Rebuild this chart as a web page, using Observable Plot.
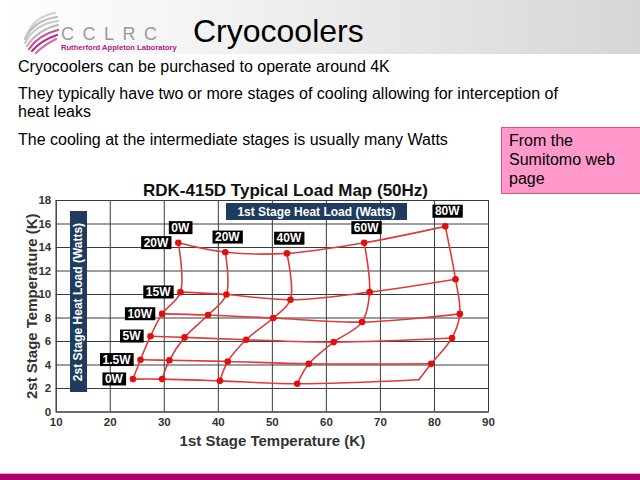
<!DOCTYPE html>
<html><head><meta charset="utf-8">
<script src="https://cdn.jsdelivr.net/npm/d3@7"></script>
<script src="https://cdn.jsdelivr.net/npm/@observablehq/plot@0.6"></script>
<style>
body{margin:0;width:640px;height:480px;overflow:hidden;background:#fff;font-family:Arial,"Liberation Sans",sans-serif;position:relative}
.abs{position:absolute;white-space:nowrap}
#header{position:absolute;left:0;top:0;width:640px;height:54px;background:linear-gradient(to right,#ffffff 0%,#f2f2f2 35%,#d6d6d6 100%)}
#title{left:193px;top:15px;font-size:32px;line-height:32px;color:#000}
.body{left:18px;font-size:16px;line-height:16px;color:#000}
#pink{position:absolute;left:501px;top:127px;width:131px;height:62px;background:#ff99cc;border:1px solid #e2507c;padding:3px 0 0 7px;font-size:16px;line-height:19px}
#ctitle{left:0;width:571px;text-align:center;top:181.5px;font-size:17px;line-height:17px;font-weight:bold;color:#111}
.navy{position:absolute;background:#1f3b5e;color:#fff;font-weight:bold;font-size:12px;display:flex;align-items:center;justify-content:center}
#chart{position:absolute;left:0;top:172px}
#bar{position:absolute;left:0;top:473px;width:640px;height:7px;background:#b0006d;border-top:1px solid #e8a8cc}
g[aria-label="x-axis label"] text, g[aria-label="y-axis label"] text{font-size:15px}
</style></head><body>
<div id="header"></div>
<svg class="abs" style="left:0;top:0" width="190" height="56">
  <g fill="none" stroke-linecap="round" stroke-width="2.2">
    <path d="M27,35 C31,23 42,15 55,13" stroke="#d0d0d0"/>
    <path d="M25,39 C30,27 42,19 57,17" stroke="#bdbdbd"/>
    <path d="M25,43 C31,31 43,23 58,21" stroke="#c8c8c8"/>
    <path d="M27,46 C33,36 45,28 58,25" stroke="#b8b8b8"/>
    <path d="M29,49 C35,40 46,33 58,30" stroke="#c4509a"/>
    <path d="M32,51 C38,44 48,38 57,35" stroke="#b0307f"/>
    <path d="M36,53 C42,47 50,42 56,39" stroke="#d070b0"/>
  </g>
  <text x="61" y="40" font-size="18" fill="#9a9a9a" letter-spacing="8.5" font-family="Arial,Liberation Sans">CCLRC</text>
  <text x="61" y="50" font-size="7.6" font-weight="bold" fill="#b0247a" font-family="Arial,Liberation Sans">Rutherford Appleton Laboratory</text>
</svg>
<div class="abs" id="title">Cryocoolers</div>
<div class="abs body" style="top:58.5px">Cryocoolers can be purchased to operate around 4K</div>
<div class="abs body" style="top:85.5px">They typically have two or more stages of cooling allowing for interception of</div>
<div class="abs body" style="top:104px">heat leaks</div>
<div class="abs body" style="top:131.5px">The cooling at the intermediate stages is usually many Watts</div>
<div id="pink">From the<br>Sumitomo web<br>page</div>
<div class="abs" id="ctitle">RDK-415D Typical Load Map (50Hz)</div>
<div id="chart"></div>
<div class="navy" style="left:226px;top:203px;width:181px;height:17px">1st Stage Heat Load (Watts)</div>
<div class="navy" style="left:70px;top:211px;width:17px;height:181px"><span style="display:inline-block;transform:rotate(-90deg);white-space:nowrap">2st Stage Heat Load (Watts)</span></div>
<div id="bar"></div>
<script>
// First-stage heat loads (columns) and second-stage heat loads (rows)
const stage1Loads = ["0W", "20W", "40W", "60W", "80W"];
const stage2Loads = ["20W", "15W", "10W", "5W", "1.5W", "0W"];
// 1st stage temperature (K), one row per 2nd-stage load, one value per 1st-stage load
const stage1Temp = [
  [32.6, 41.3, 52.7, 67.0, 82.0],
  [33.0, 41.5, 53.35, 68.0, 83.9],
  [29.6, 38.1, 50.15, 66.6, 84.7],
  [27.45, 33.75, 45.15, 61.35, 83.25],
  [25.6, 30.95, 41.75, 56.75, 79.4],
  [24.2, 29.6, 40.3, 54.6, 77.1]
];
// 2nd stage temperature (K)
const stage2Temp = [
  [14.4, 13.6, 13.5, 14.4, 15.8],
  [10.2, 10.0, 9.55, 10.2, 11.3],
  [8.35, 8.25, 8.0, 7.65, 8.35],
  [6.45, 6.35, 6.15, 5.95, 6.3],
  [4.45, 4.4, 4.3, 4.1, 4.1],
  [2.8, 2.8, 2.65, 2.4, 2.75]
];
// operating point drawn without a marker
const unmarked = [["80W", "0W"]];
const xTicks = [10, 20, 30, 40, 50, 60, 70, 80, 90];
const yTicks = [0, 2, 4, 6, 8, 10, 12, 14, 16, 18];

const pts = [];
stage2Loads.forEach((s2, i) => stage1Loads.forEach((s1, j) => {
  pts.push({s1, s2, t1: stage1Temp[i][j], t2: stage2Temp[i][j],
    marked: !unmarked.some(([a, b]) => a === s1 && b === s2)});
}));

const red = "#e23a3a";
const gridColor = "#3c3c3c";
const chart = Plot.plot({
  width: 500, height: 275,
  marginLeft: 55.7, marginRight: 12, marginTop: 28, marginBottom: 35.5,
  x: {domain: [10, 90]},
  y: {domain: [0, 18]},
  style: {background: "transparent", fontFamily: 'Arial,"Liberation Sans",sans-serif', overflow: "visible"},
  marks: [
    Plot.gridX(xTicks, {stroke: gridColor, strokeOpacity: 1, strokeWidth: 1}),
    Plot.gridY(yTicks, {stroke: gridColor, strokeOpacity: 1, strokeWidth: 1}),
    Plot.frame({stroke: gridColor, strokeWidth: 1}),
    Plot.axisX(xTicks, {tickSize: 0, tickPadding: 6, fontSize: 11.5, fontWeight: "bold", fill: "#333",
      label: "1st Stage Temperature (K)", labelAnchor: "center", labelArrow: "none", labelOffset: 34}),
    Plot.axisY(yTicks, {tickSize: 0, tickPadding: 5, fontSize: 11.5, fontWeight: "bold", fill: "#333",
      label: "2st Stage Temperature (K)", labelAnchor: "center", labelArrow: "none", labelOffset: 30}),
    Plot.line(pts, {x: "t1", y: "t2", z: "s2", curve: "catmull-rom", stroke: red, strokeWidth: 1.6}),
    Plot.line(pts, {x: "t1", y: "t2", z: "s1", curve: "catmull-rom", stroke: red, strokeWidth: 1.6}),
    Plot.dot(pts.filter(d => d.marked), {x: "t1", y: "t2", r: 3.3, fill: "#e01010", stroke: "none"}),
    Plot.text(pts.filter(d => d.s2 === stage2Loads[0]), {x: "t1", y: "t2", text: "s1", dx: 2, dy: -15,
      fill: "white", fontWeight: "bold", fontSize: 12}),
    Plot.text(pts.filter(d => d.s1 === stage1Loads[0]), {x: "t1", y: "t2", text: "s2", dx: -10, dy: 0,
      textAnchor: "end", fill: "white", fontWeight: "bold", fontSize: 12})
  ]
});
document.getElementById("chart").appendChild(chart);
// black label boxes behind load labels
d3.select(chart).selectAll('g[aria-label="text"] text').each(function() {
  const b = this.getBBox();
  const r = document.createElementNS("http://www.w3.org/2000/svg", "rect");
  r.setAttribute("x", b.x - 2.5);
  r.setAttribute("y", b.y + 0.5);
  r.setAttribute("width", b.width + 5);
  r.setAttribute("height", b.height - 1);
  r.setAttribute("fill", "#000");
  const t = this.getAttribute("transform");
  if (t) r.setAttribute("transform", t);
  this.parentNode.insertBefore(r, this);
});
</script>
</body></html>
